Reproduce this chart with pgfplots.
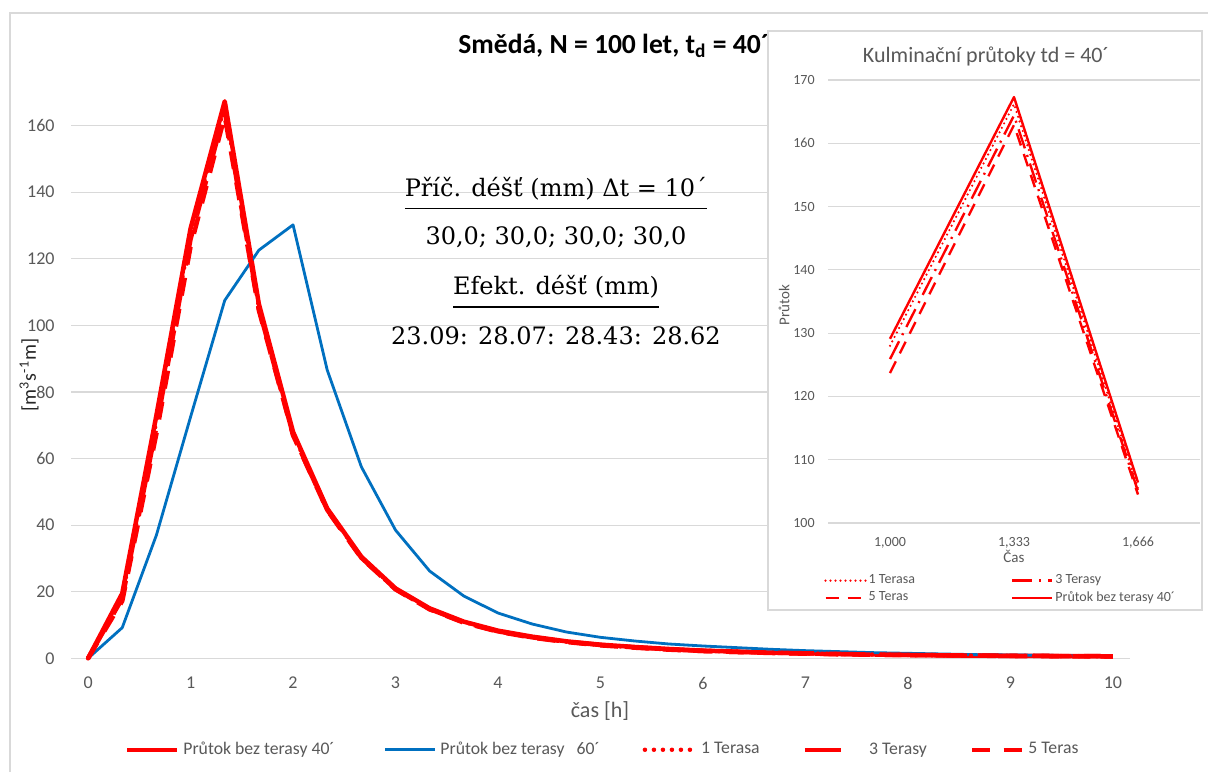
\documentclass[border=0pt]{standalone}
\usepackage{fontspec}
\setmainfont{Carlito}
\newfontfamily\serifbox{DejaVu Serif}
\usepackage{pgfplots}
\usepackage{pgfplotstable}
\pgfplotsset{compat=1.18}
\definecolor{textgray}{HTML}{595959}
\definecolor{labelgray}{HTML}{262626}
\definecolor{gridgray}{HTML}{D9D9D9}
\definecolor{exred}{HTML}{FF0000}
\definecolor{exblue}{HTML}{0070C0}
\newcommand\ulbox[1]{\setbox0\hbox{#1}\rlap{\raisebox{-6.3pt}{\rule{\wd0}{0.85pt}}}\box0}

\pgfplotstableread{
x bez40 b60 t1 t3 t5
0 0 0 0 0 0
0.3333 19.5 9.2 18.8 18 17.2
0.6667 73 37 71.5 69.5 67.5
1 129.1 72.5 128 125.9 123.7
1.3333 167.3 107.5 166.2 164.4 162.9
1.6667 106.4 122.6 105.5 105 104.5
2 68 130.2 67.5 67.2 67
2.3333 45 86.6 44.8 44.6 44.5
2.6667 30.5 57.5 30.3 30.2 30.1
3 21 38.5 20.9 20.8 20.7
3.3333 15 26.2 14.9 14.8 14.7
3.6667 11 18.7 10.9 10.8 10.7
4 8.3 13.6 8.2 8.1 8.0
4.3333 6.5 10.3 6.4 6.3 6.2
4.6667 5.1 7.9 5.0 5.0 4.9
5 4.1 6.3 4.0 4.0 3.9
5.3333 3.4 5.2 3.3 3.3 3.2
5.6667 2.8 4.3 2.7 2.7 2.6
6 2.3 3.7 2.3 2.2 2.2
6.3333 2.0 3.2 2.0 1.9 1.9
6.6667 1.7 2.7 1.7 1.7 1.6
7 1.5 2.3 1.5 1.5 1.4
7.3333 1.3 2.0 1.3 1.3 1.2
7.6667 1.15 1.7 1.15 1.1 1.1
8 1.0 1.5 1.0 1.0 1.0
8.3333 0.9 1.3 0.9 0.9 0.9
8.6667 0.8 1.1 0.8 0.8 0.8
9 0.75 1.0 0.75 0.75 0.7
9.3333 0.7 0.9 0.7 0.7 0.65
9.6667 0.65 0.8 0.65 0.65 0.6
10 0.6 0.7 0.6 0.6 0.55
}\maindata

\pgfplotstableread{
x t1 t3 t5 bez40
1 128 125.9 123.7 129.1
2 166.2 164.4 162.9 167.3
3 105.5 105 104.5 106.4
}\insetdata

\begin{document}
\begin{tikzpicture}
\useasboundingbox (0pt,0pt) rectangle (604pt,386pt);
\fill[white] (0pt,0pt) rectangle (604pt,386pt);
\draw[gridgray, line width=0.6pt] (5pt,0pt) -- (5pt,379.5pt) -- (604pt,379.5pt);

\begin{axis}[
  at={(35.5pt,56.85pt)}, anchor=south west,
  scale only axis, width=529.5pt, height=291.3pt,
  xmin=-0.16667, xmax=10.16667, ymin=0, ymax=175,
  xtick={0,1,...,10}, ytick={0,20,...,160},
  axis line style={draw=none}, major tick length=0pt,
  ymajorgrids, grid style={gridgray, line width=0.6pt},
  tick label style={font=\fontsize{9}{10}\selectfont, text=textgray, inner sep=0pt},
  xticklabel style={yshift=-9.2pt},
  yticklabel style={xshift=-8pt},
  /pgf/number format/assume math mode=true,
  clip=false,
  legend columns=5,
  legend cell align=left,
  legend style={at={(0.503,-0.157)}, anchor=center, draw=none, fill=none,
    font=\fontsize{8.85}{10}\selectfont, text=textgray,
    /tikz/every even column/.append style={column sep=19.5pt}},
  legend image code/.code={\draw[#1] (0pt,0pt) -- (25pt,0pt);},
]
\addplot[exred, line width=2.25pt, line join=round] table[x=x,y=bez40]{\maindata};
\addlegendentry{Průtok bez terasy 40´\rule{3pt}{0pt}}
\addplot[exblue, line width=1.4pt, line join=round] table[x=x,y=b60]{\maindata};
\addlegendentry{Průtok bez terasy\hspace{6pt}60´}
\addplot[exred, line width=2.25pt, line cap=round, dash pattern=on 0pt off 4.5pt] table[x=x,y=t1]{\maindata};
\addlegendentry{1 Terasa}
\addplot[exred, line width=2.25pt, dash pattern=on 18pt off 7.5pt] table[x=x,y=t3]{\maindata};
\addlegendentry{\ \ 3 Terasy}
\addplot[exred, line width=2.25pt, dash pattern=on 9pt off 6.75pt] table[x=x,y=t5]{\maindata};
\addlegendentry{5 Teras}
\end{axis}

% axis titles
\node[rotate=90, font=\fontsize{10}{12}\selectfont, text=labelgray] at (14.5pt,198.5pt) {[m\textsuperscript{3}s\textsuperscript{-1}m]};
\node[font=\fontsize{11}{12}\selectfont, text=textgray] at (300pt,30.5pt) {čas [h]};
\node[anchor=base west, inner sep=0pt, font=\bfseries\fontsize{13.8}{15}\selectfont] at (229pt,359.2pt) {Smědá, N = 100 let, t\textsubscript{d} = 40´};

% rainfall text block
\begin{scope}[every node/.style={anchor=base, inner sep=0pt, font=\serifbox\fontsize{12}{14}\selectfont}]
\node at (278pt,287.65pt) {\ulbox{Příč. déšť (mm) Δt = 10´}};
\node at (278pt,263.5pt) {30,0; 30,0; 30,0; 30,0};
\node at (278pt,238.5pt) {\ulbox{Efekt. déšť (mm)}};
\node at (278pt,214pt) {23.09: 28.07: 28.43: 28.62};
\end{scope}

% inset chart
\draw[fill=white, draw=gridgray, line width=0.6pt] (384pt,81pt) rectangle (601pt,370.5pt);
\begin{axis}[
  at={(414pt,124.5pt)}, anchor=south west,
  scale only axis, width=186pt, height=221.5pt,
  xmin=0.5, xmax=3.5, ymin=100, ymax=170,
  xtick={1,2,3}, xticklabels={{1,000},{1,333},{1,666}},
  ytick={100,110,...,170},
  axis line style={draw=none}, major tick length=0pt,
  ymajorgrids, grid style={gridgray, line width=0.6pt},
  tick label style={font=\fontsize{7}{8}\selectfont, text=textgray, inner sep=0pt},
  xticklabel style={yshift=-6.8pt},
  yticklabel style={xshift=-6.5pt},
  /pgf/number format/assume math mode=true,
  clip=false,
  legend columns=2,
  legend cell align=left,
  legend style={at={(-0.011,-0.111)}, anchor=north west, draw=none, fill=none, inner sep=0pt,
    font=\fontsize{7}{8}\selectfont, text=textgray,
    nodes={inner sep=1pt},
    row sep=0.4pt,
    /tikz/every even column/.append style={column sep=47pt}},
  legend image code/.code={\draw[#1] (0pt,0pt) -- (20pt,0pt);},
]
\addplot[exred, line width=1.2pt, line cap=round, dash pattern=on 0pt off 2.5pt] table[x=x,y=t1]{\insetdata};
\addlegendentry{1 Terasa}
\addplot[exred, line width=1.2pt, dash pattern=on 10pt off 3.5pt on 1pt off 3.5pt] table[x=x,y=t3]{\insetdata};
\addlegendentry{3 Terasy}
\addplot[exred, line width=1.2pt, dash pattern=on 6.5pt off 4.5pt] table[x=x,y=t5]{\insetdata};
\addlegendentry{5 Teras}
\addplot[exred, line width=1.2pt, line join=round] table[x=x,y=bez40]{\insetdata};
\addlegendentry{Průtok bez terasy 40´}
\end{axis}
\node[font=\fontsize{11}{12}\selectfont, text=textgray] at (493pt,358pt) {Kulminační průtoky td = 40´};
\node[font=\fontsize{7.5}{8}\selectfont, text=textgray] at (507pt,108pt) {Čas};
\node[rotate=90, font=\fontsize{7.5}{8}\selectfont, text=textgray] at (392pt,233.5pt) {Průtok};
\end{tikzpicture}
\end{document}
